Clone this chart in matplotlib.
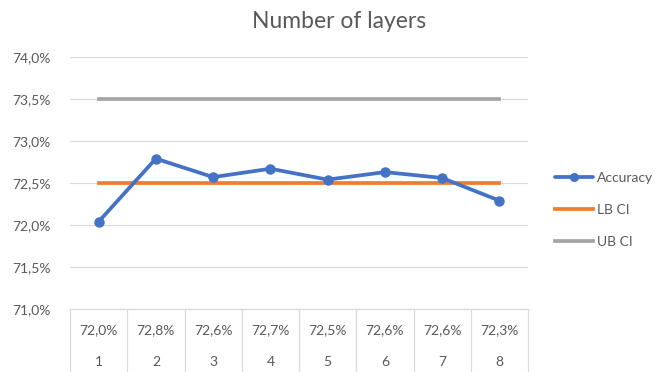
import matplotlib
matplotlib.use("Agg")
import matplotlib.pyplot as plt
from matplotlib.ticker import FuncFormatter

plt.rcParams['font.family'] = ['Lato', 'DejaVu Sans']

layers = [1, 2, 3, 4, 5, 6, 7, 8]
accuracy = [72.04, 72.79, 72.57, 72.67, 72.54, 72.63, 72.56, 72.29]
lb_ci = [72.5] * 8
ub_ci = [73.5] * 8
yticks = [71.0, 71.5, 72.0, 72.5, 73.0, 73.5, 74.0]

TEXT = '#595959'
GRID = '#D9D9D9'

fig = plt.figure(figsize=(6.56, 3.72), dpi=100)
ax = fig.add_axes([70 / 656, 1 - 309 / 372, 458 / 656, 252 / 372])

ax.plot(layers, accuracy, color='#4472C4', lw=2.7, marker='o', ms=6.5,
        label='Accuracy', zorder=4, solid_capstyle='round')
ax.plot(layers, lb_ci, color='#ED7D31', lw=2.7, label='LB CI', zorder=3)
ax.plot(layers, ub_ci, color='#A5A5A5', lw=2.7, label='UB CI', zorder=3)

ax.set_xlim(0.5, 8.5)
ax.set_ylim(71.0, 74.0)
ax.set_yticks(yticks)
ax.yaxis.set_major_formatter(FuncFormatter(lambda v, p: f"{v:.1f}%".replace('.', ',')))
ax.set_xticks([])
ax.tick_params(axis='y', length=0, pad=14, labelsize=10, labelcolor=TEXT)
ax.grid(axis='y', color=GRID, lw=0.8)
ax.set_axisbelow(True)
for s in ax.spines.values():
    s.set_visible(False)

# data table underneath the plot area
tr = ax.get_xaxis_transform()
ax.plot([0.5, 8.5], [0, 0], transform=tr, color=GRID, lw=0.9, clip_on=False)
for b in [0.5 + i for i in range(9)]:
    ax.plot([b, b], [0, -0.3], transform=tr, color=GRID, lw=0.9, clip_on=False)
for x, v in zip(layers, accuracy):
    ax.text(x, -21 / 252, f"{v:.1f}%".replace('.', ','), transform=tr,
            ha='center', va='center', fontsize=10, color=TEXT)
    ax.text(x, -53 / 252, str(x), transform=tr,
            ha='center', va='center', fontsize=10, color=TEXT)

fig.text(339 / 656, 1 - 21 / 372, 'Number of layers', ha='center', va='center',
         fontsize=16.5, color=TEXT)

leg = fig.legend(loc='center left', bbox_to_anchor=(555 / 656, 1 - 210 / 372),
                 frameon=False, fontsize=10, labelcolor=TEXT, handlelength=2.7,
                 handletextpad=0.3, labelspacing=1.42, borderaxespad=0,
                 borderpad=0, markerscale=0.85)

fig.savefig('out.png', dpi=100)
